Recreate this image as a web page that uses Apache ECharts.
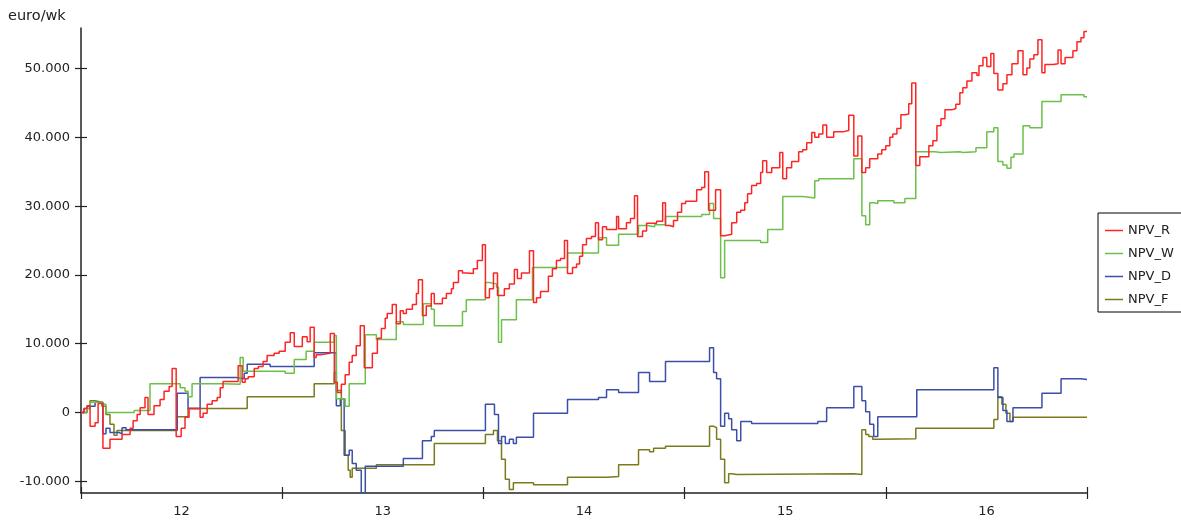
<!DOCTYPE html>
<html>
<head>
<meta charset="utf-8">
<script src="https://cdn.jsdelivr.net/npm/echarts@6/dist/echarts.min.js"></script>
<style>
html,body{margin:0;padding:0;background:#fff;}
#chart{width:1181px;height:521px;}
</style>
</head>
<body>
<div id="chart"></div>
<script>
// Category labels for the time axis (years)
const years = ['12', '13', '14', '15', '16'];
// Y tick values
const yTicks = [-10000, 0, 10000, 20000, 30000, 40000, 50000];
const seriesNames = ['NPV_R', 'NPV_W', 'NPV_D', 'NPV_F'];

// [time (years), value (euro/wk)] — value holds until next point
const npvR = [
[11.500,0],[11.515,600],[11.530,1000],[11.545,-2000],[11.570,-1500],[11.585,1300],[11.609,-5200],[11.644,-3900],
[11.704,-3200],[11.744,-2300],[11.759,-1200],[11.779,-300],[11.794,700],[11.818,2200],[11.833,-300],[11.863,1000],
[11.893,1900],[11.913,3100],[11.938,3800],[11.953,6400],[11.973,-3500],[11.998,-2300],[12.017,-700],[12.037,600],
[12.092,-700],[12.107,-100],[12.127,1200],[12.152,1700],[12.177,2200],[12.192,3600],[12.206,4500],[12.281,6800],
[12.301,4400],[12.316,4900],[12.331,5200],[12.361,6400],[12.381,6700],[12.405,7400],[12.425,8300],[12.460,8600],
[12.485,8900],[12.515,10200],[12.540,11600],[12.560,9600],[12.600,11000],[12.624,10300],[12.639,12400],[12.659,8000],
[12.669,8400],[12.689,8600],[12.739,11500],[12.759,4400],[12.774,2900],[12.794,4100],[12.813,5500],[12.833,7300],
[12.848,8300],[12.868,9700],[12.888,12600],[12.908,6500],[12.948,8600],[12.973,10800],[12.993,12200],[13.012,13700],
[13.022,14400],[13.047,15700],[13.067,12900],[13.087,14800],[13.102,14400],[13.117,15000],[13.147,15700],[13.167,17300],
[13.177,19300],[13.197,14100],[13.216,15500],[13.241,17300],[13.256,15800],[13.296,16600],[13.316,17300],[13.341,18000],
[13.351,18900],[13.376,20600],[13.396,20300],[13.415,20200],[13.450,20900],[13.470,22100],[13.495,24400],[13.510,16700],
[13.530,18000],[13.550,20300],[13.570,17000],[13.604,18000],[13.629,18700],[13.654,20800],[13.669,19500],[13.689,20300],
[13.729,23500],[13.749,16000],[13.764,16700],[13.784,17600],[13.823,19800],[13.843,20900],[13.863,22100],[13.883,22400],
[13.903,25000],[13.918,20200],[13.943,21100],[13.963,21600],[13.978,22700],[13.993,24400],[14.012,25300],[14.037,25600],
[14.057,27600],[14.072,25100],[14.092,27000],[14.112,26600],[14.162,28500],[14.172,26700],[14.211,27600],[14.231,28200],
[14.251,31500],[14.266,25600],[14.291,26400],[14.311,27500],[14.361,27800],[14.391,30500],[14.405,27200],[14.425,27000],
[14.445,27900],[14.465,29100],[14.485,30400],[14.505,30700],[14.560,32400],[14.585,32700],[14.600,35000],[14.619,29400],
[14.654,32400],[14.679,25700],[14.699,25900],[14.734,27600],[14.759,29100],[14.779,29400],[14.799,30500],[14.813,31800],
[14.833,33000],[14.858,33300],[14.878,34900],[14.888,36600],[14.908,34900],[14.933,35600],[14.973,37800],[14.988,34000],
[15.007,35600],[15.032,36500],[15.067,37900],[15.087,38200],[15.107,39200],[15.132,40700],[15.147,40000],[15.167,40500],
[15.187,41800],[15.206,40000],[15.241,40800],[15.286,41000],[15.316,43200],[15.341,37300],[15.361,40200],[15.381,34900],
[15.400,35600],[15.420,36900],[15.460,37600],[15.480,38200],[15.500,38800],[15.520,40000],[15.535,40500],[15.555,41300],
[15.575,43300],[15.595,43400],[15.614,44900],[15.629,47900],[15.649,35900],[15.669,37200],[15.714,38800],[15.734,39500],
[15.754,41700],[15.774,42700],[15.794,44000],[15.828,44200],[15.848,44800],[15.868,46500],[15.883,47200],[15.903,48200],
[15.928,49400],[15.953,49000],[15.963,50400],[15.983,51600],[16.002,50300],[16.022,52200],[16.037,49300],[16.057,46900],
[16.082,47800],[16.102,49100],[16.127,50700],[16.157,52600],[16.182,49100],[16.201,50100],[16.216,51400],[16.236,52000],
[16.256,54200],[16.276,49400],[16.291,50600],[16.331,50700],[16.356,52700],[16.371,50700],[16.391,51600],[16.430,52600],
[16.450,53900],[16.470,54500],[16.485,55400],[16.500,55400]
];

const npvW = [
[11.500,0],[11.530,600],[11.545,1500],[11.609,1200],[11.624,0],[11.764,300],[11.843,4200],[11.993,3600],
[12.017,3100],[12.032,2300],[12.052,4200],[12.201,4100],[12.291,8000],[12.306,6000],[12.515,5700],[12.560,7700],
[12.619,8900],[12.659,10200],[12.759,11200],[12.769,2000],[12.813,900],[12.833,4200],[12.913,11300],[12.968,10600],
[13.067,13200],[13.102,12800],[13.201,15800],[13.241,15000],[13.256,12600],[13.396,14700],[13.415,16400],[13.510,18900],
[13.530,18700],[13.565,18200],[13.575,10200],[13.590,13500],[13.664,16400],[13.744,21100],[13.918,23200],[14.072,25400],
[14.112,24300],[14.172,25900],[14.271,27200],[14.316,27000],[14.351,27300],[14.405,28500],[14.585,28800],[14.624,30400],
[14.644,28200],[14.679,19600],[14.699,25000],[14.878,24700],[14.913,26600],[14.988,31400],[15.087,31200],[15.147,33700],
[15.167,34000],[15.341,36900],[15.381,28600],[15.400,27300],[15.420,30500],[15.440,30400],[15.460,30800],[15.540,30500],
[15.595,31100],[15.649,37900],[15.744,37800],[15.774,37900],[15.868,37800],[15.883,37900],[15.948,38500],[16.002,40800],
[16.037,41400],[16.057,36500],[16.082,36000],[16.102,35500],[16.122,37100],[16.137,37600],[16.182,41700],[16.216,41400],
[16.276,45200],[16.371,46200],[16.485,45900],[16.500,45900]
];

const npvD = [
[11.500,0],[11.530,900],[11.570,1500],[11.609,-3100],[11.624,-2300],[11.644,-2900],[11.689,-3100],[11.704,-2200],
[11.724,-2500],[11.978,2800],[12.032,600],[12.092,5100],[12.271,4900],[12.311,5700],[12.326,7000],[12.440,6700],
[12.659,8700],[12.769,1000],[12.789,2000],[12.808,-6200],[12.833,-5500],[12.848,-7400],[12.868,-8400],[12.893,-11800],
[12.913,-7800],[13.102,-6700],[13.197,-4100],[13.241,-3500],[13.256,-2600],[13.510,1200],[13.555,-300],[13.575,-4500],
[13.590,-3500],[13.609,-4500],[13.629,-3900],[13.649,-4500],[13.664,-3600],[13.749,-100],[13.918,1900],[14.072,2200],
[14.112,3300],[14.172,2900],[14.271,5800],[14.326,4500],[14.405,7400],[14.624,9400],[14.644,5800],[14.659,4900],
[14.679,-2000],[14.699,-100],[14.719,-900],[14.734,-2500],[14.759,-4100],[14.779,-1300],[14.833,-1600],[15.162,-1300],
[15.206,700],[15.341,3800],[15.381,1700],[15.400,100],[15.420,-1700],[15.440,-3500],[15.460,-600],[15.654,3300],
[16.037,6500],[16.057,2200],[16.082,300],[16.102,-1300],[16.132,700],[16.276,2800],[16.371,4900],[16.470,4800],
[16.500,4800]
];

const npvF = [
[11.500,0],[11.515,600],[11.545,1700],[11.570,1500],[11.604,900],[11.624,-300],[11.644,-1700],[11.664,-3300],
[11.679,-2600],[11.978,-600],[12.032,600],[12.326,2300],[12.659,4200],[12.759,5800],[12.769,3200],[12.794,-2600],
[12.813,-6200],[12.828,-8400],[12.838,-9400],[12.848,-8100],[12.968,-7600],[13.256,-4500],[13.510,-3200],[13.550,-2600],
[13.570,-4100],[13.590,-6800],[13.609,-9700],[13.629,-11200],[13.649,-10200],[13.749,-10500],[13.918,-9400],[14.117,-9300],
[14.172,-7600],[14.271,-5400],[14.326,-5700],[14.346,-5200],[14.405,-4900],[14.624,-2000],[14.644,-2200],[14.659,-3900],
[14.679,-6800],[14.699,-10200],[14.719,-8900],[14.734,-9000],[14.759,-8900],[15.341,-9000],[15.381,-2500],[15.400,-3200],
[15.415,-3500],[15.435,-3900],[15.455,-3800],[15.649,-2300],[16.037,-1000],[16.057,2300],[16.077,1200],[16.097,-100],
[16.117,-1300],[16.132,-700],[16.500,-700]
];

const colors = ['#ff2424', '#6cc04a', '#3c4fa8', '#7a7a1e'];
const FONT = 'DejaVu Sans';

function fmt(v) {
  const s = Math.abs(v).toString().replace(/\B(?=(\d{3})+(?!\d))/g, '.');
  return (v < 0 ? '-' : '') + s;
}

const chart = echarts.init(document.getElementById('chart'), null, {renderer: 'canvas'});
const Y_MIN = -11700, Y_MAX = 55900;
const axisColor = '#222';

const option = {
  animation: false,
  backgroundColor: '#fff',
  textStyle: {fontFamily: FONT},
  title: {
    text: 'euro/wk', left: 8, top: 9, padding: 0,
    textStyle: {fontFamily: FONT, fontSize: 14.5, fontWeight: 'normal', color: axisColor}
  },
  grid: {left: 81, right: 94, top: 28, bottom: 28, containLabel: false},
  legend: {
    orient: 'vertical', left: 1098, top: 213,
    padding: [10, 30, 5, 7],
    icon: 'rect',
    itemWidth: 18, itemHeight: 1.5, itemGap: 8,
    borderColor: '#000', borderWidth: 1,
    textStyle: {fontFamily: FONT, fontSize: 13, color: axisColor, lineHeight: 15},
    data: seriesNames
  },
  xAxis: [
    {
      type: 'category', data: years, position: 'bottom', boundaryGap: true,
      axisLine: {show: true, onZero: false, lineStyle: {color: axisColor, width: 1.5}},
      axisTick: {show: true, length: 6, lineStyle: {color: axisColor, width: 1.2}},
      axisLabel: {fontFamily: FONT, fontSize: 13, color: axisColor, margin: 12},
      splitLine: {show: false}
    },
    {
      type: 'category', data: years, position: 'bottom', boundaryGap: true,
      axisLine: {show: false, onZero: false},
      axisTick: {show: true, inside: true, length: 6, lineStyle: {color: axisColor, width: 1.2}},
      axisLabel: {show: false},
      splitLine: {show: false}
    },
    {
      type: 'value', min: 11.5, max: 16.5, position: 'bottom', show: false,
      axisLine: {onZero: false}
    }
  ],
  yAxis: [
    {
      type: 'value', min: Y_MIN, max: Y_MAX, position: 'left',
      axisLine: {show: true, onZero: false, lineStyle: {color: axisColor, width: 1.5}},
      axisTick: {show: true, length: 6, customValues: yTicks, lineStyle: {color: axisColor, width: 1.2}},
      axisLabel: {customValues: yTicks, formatter: fmt, fontFamily: FONT, fontSize: 13, color: axisColor, margin: 11},
      splitLine: {show: false}
    },
    {
      type: 'value', min: Y_MIN, max: Y_MAX, position: 'left',
      axisLine: {show: false, onZero: false},
      axisTick: {show: true, inside: true, length: 6, customValues: yTicks, lineStyle: {color: axisColor, width: 1.2}},
      axisLabel: {show: false},
      splitLine: {show: false}
    }
  ],
  series: [npvR, npvW, npvD, npvF].map((d, i) => ({
    name: seriesNames[i],
    type: 'line',
    step: 'end',
    xAxisIndex: 2,
    yAxisIndex: 0,
    data: d,
    symbol: 'none',
    color: colors[i],
    lineStyle: {color: colors[i], width: 1.5},
    z: 4 - i
  }))
};
chart.setOption(option);
</script>
</body>
</html>
